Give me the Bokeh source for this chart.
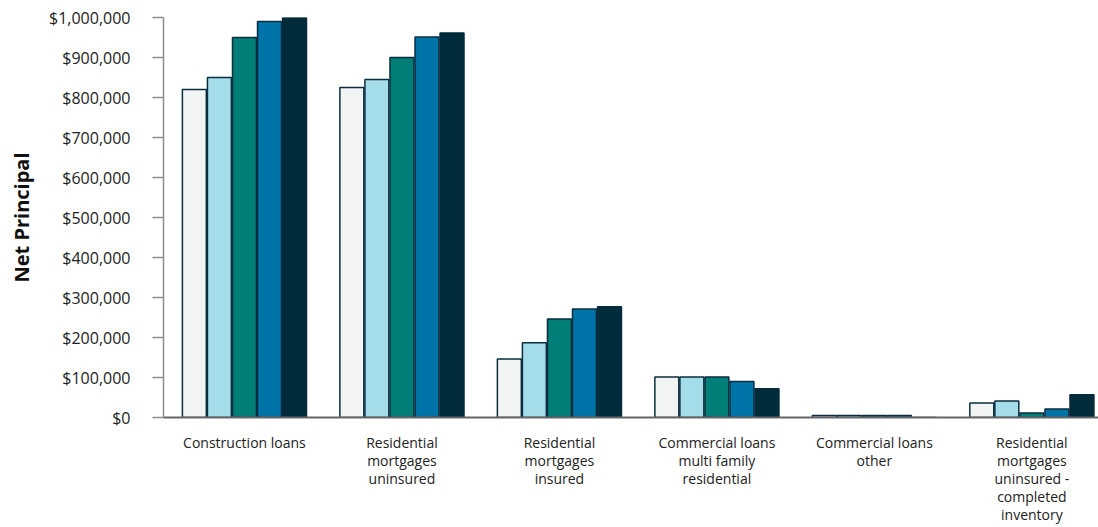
from bokeh.plotting import figure
from bokeh.models import Range1d, FixedTicker, NumeralTickFormatter, ColumnDataSource
from bokeh.embed import file_html
from bokeh.resources import INLINE

categories = [
    "Construction loans",
    "Residential\nmortgages\nuninsured",
    "Residential\nmortgages\ninsured",
    "Commercial loans\nmulti family\nresidential",
    "Commercial loans\nother",
    "Residential\nmortgages\nuninsured -\ncompleted\ninventory",
]
series_1 = [820000, 825000, 146000, 101000, 5000, 36000]
series_2 = [850000, 845000, 187000, 101000, 5000, 41000]
series_3 = [950000, 900000, 246000, 101000, 5000, 11000]
series_4 = [990000, 951000, 271000, 90000, 5000, 21000]
series_5 = [1003000, 961000, 277000, 72000, 0, 57000]
y_ticks = [0, 100000, 200000, 300000, 400000, 500000, 600000, 700000, 800000, 900000, 1000000]

series = [series_1, series_2, series_3, series_4, series_5]
colors = ["#F2F3F3", "#A5DCE9", "#007E77", "#0074A8", "#002B3B"]
outline = "#0A2E3F"

p = figure(width=1098, height=527, output_backend="svg", toolbar_location=None,
           x_range=Range1d(0.486, 6.423), y_range=Range1d(0, 1000000),
           min_border_left=163, min_border_right=0, min_border_top=17, min_border_bottom=110)
p.outline_line_color = None
p.xgrid.visible = False
p.ygrid.visible = False
p.background_fill_color = "white"
p.border_fill_color = "white"

step = 0.159
bw = 0.152
pos = list(range(1, len(categories) + 1))
for k, (vals, c) in enumerate(zip(series, colors)):
    xs = [x + (k - 2) * step for x in pos]
    src = ColumnDataSource(dict(x=xs, top=vals))
    p.vbar(x="x", top="top", width=bw, source=src, fill_color=c,
           line_color=outline if k < 4 else c, line_width=1.5)

# y axis
ya = p.yaxis[0]
ya.ticker = FixedTicker(ticks=y_ticks)
ya.formatter = NumeralTickFormatter(format="$0,0")
ya.axis_line_color = "#8C8C8C"
ya.axis_line_width = 1.5
ya.major_tick_line_color = "#8C8C8C"
ya.major_tick_line_width = 1.5
ya.major_tick_out = 11
ya.major_tick_in = 0
ya.minor_tick_out = 0
ya.minor_tick_in = 0
ya.major_label_text_font = "Open Sans"
ya.major_label_text_font_size = "16px"
ya.major_label_text_color = "#222222"
ya.major_label_standoff = 22
ya.axis_label = "Net Principal"
ya.axis_label_text_font = "Open Sans"
ya.axis_label_text_font_style = "bold"
ya.axis_label_text_font_size = "20px"
ya.axis_label_text_color = "#111111"
ya.axis_label_standoff = 11

# x axis
xa = p.xaxis[0]
xa.ticker = FixedTicker(ticks=pos)
xa.major_label_overrides = {i + 1: lab for i, lab in enumerate(categories)}
xa.axis_line_color = "#666666"
xa.axis_line_width = 2
xa.major_tick_out = 0
xa.major_tick_in = 0
xa.minor_tick_out = 0
xa.minor_tick_in = 0
xa.major_label_text_font = "Open Sans"
xa.major_label_text_font_size = "14px"
xa.major_label_text_color = "#222222"
xa.major_label_text_line_height = 0.95
xa.major_label_standoff = 15

open("out.html", "w").write(file_html(p, INLINE))
